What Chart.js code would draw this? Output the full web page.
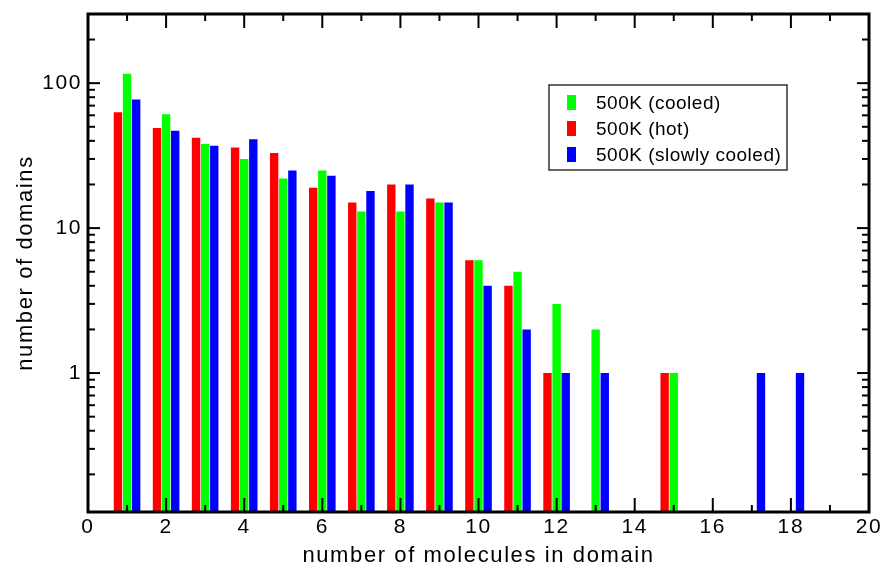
<!DOCTYPE html>
<html>
<head>
<meta charset="utf-8">
<script src="https://cdn.jsdelivr.net/npm/chart.js@4.4.1/dist/chart.umd.min.js"></script>
<style>
  html, body { margin: 0; padding: 0; background: #fff; }
  canvas { display: block; }
</style>
</head>
<body>
<canvas id="domainChart" width="889" height="569"></canvas>
<script>
// domain size histogram, 500K runs
const sizes  = [1, 2, 3, 4, 5, 6, 7, 8, 9, 10, 11, 12, 13, 14, 15, 16, 17, 18];
const hot    = [63, 49, 42, 36, 33, 19, 15, 20, 16, 6, 4, 1, null, null, 1, null, null, null];
const cooled = [116, 61, 38, 30, 22, 25, 13, 13, 15, 6, 5, 3, 2, null, 1, null, null, null];
const slowly = [77, 47, 37, 41, 25, 23, 18, 20, 15, 4, 2, 1, 1, null, null, null, 1, 1];

const seriesNames  = ['500K (hot)', '500K (cooled)', '500K (slowly cooled)'];
const seriesColors = ['#ff0000', '#00ff00', '#0000ff'];
const legendOrder  = [1, 0, 2];

const xTickValues = [0, 2, 4, 6, 8, 10, 12, 14, 16, 18, 20];
const yTickValues = [1, 10, 100];

const FONT = "'Liberation Sans', Arial, sans-serif";

function points(values) {
  return sizes.map((s, i) => ({ x: s, y: values[i] }));
}

// closed frame with inward ticks on all four sides
const frame = {
  id: 'frame',
  afterDatasetsDraw(chart) {
    const { ctx, chartArea: a, scales: { x, y } } = chart;
    const seg = (x1, y1, x2, y2) => {
      ctx.beginPath(); ctx.moveTo(x1, y1); ctx.lineTo(x2, y2); ctx.stroke();
    };
    ctx.save();
    ctx.strokeStyle = '#000';
    ctx.lineWidth = 2;
    for (let v = 1; v < 20; v++) {
      const px = x.getPixelForValue(v);
      const len = v % 2 ? 7 : 14;
      seg(px, a.bottom, px, a.bottom - len);
      seg(px, a.top, px, a.top + len);
    }
    for (let d = 0.1; d < 1000; d *= 10) {
      for (let k = 1; k < 10; k++) {
        const v = d * k;
        if (v <= y.min || v >= y.max) continue;
        const py = y.getPixelForValue(v);
        const len = k === 1 ? 12 : 7;
        seg(a.left, py, a.left + len, py);
        seg(a.right, py, a.right - len, py);
      }
    }
    ctx.lineWidth = 3;
    ctx.strokeRect(a.left, a.top, a.right - a.left, a.bottom - a.top);
    ctx.restore();
  }
};

// boxed legend inside the plot
const legendBox = {
  id: 'legendBox',
  afterDraw(chart) {
    const ctx = chart.ctx;
    const ds = chart.data.datasets;
    ctx.save();
    ctx.fillStyle = '#fff';
    ctx.fillRect(549, 85, 238, 85);
    ctx.strokeStyle = '#333';
    ctx.lineWidth = 1.5;
    ctx.strokeRect(549, 85, 238, 85);
    ctx.letterSpacing = '0.5px';
    ctx.font = '19px ' + FONT;
    ctx.textBaseline = 'alphabetic';
    legendOrder.forEach((idx, row) => {
      const base = 109 + row * 26;
      ctx.fillStyle = ds[idx].backgroundColor;
      ctx.fillRect(567, base - 14, 9, 15);
      ctx.fillStyle = '#000';
      ctx.fillText(ds[idx].label, 596, base);
    });
    ctx.restore();
  }
};

// wider axis lettering
const spacing = {
  id: 'spacing',
  beforeDraw(chart) {
    chart.ctx.letterSpacing = '1.6px';
  }
};

new Chart(document.getElementById('domainChart'), {
  type: 'bar',
  data: {
    datasets: [hot, cooled, slowly].map((vals, i) => ({
      label: seriesNames[i],
      data: points(vals),
      backgroundColor: seriesColors[i],
      borderWidth: 0,
      categoryPercentage: 0.7,
      barPercentage: 0.92
    }))
  },
  options: {
    responsive: false,
    animation: false,
    layout: { padding: { left: 0, right: 20, top: 14, bottom: 0 } },
    plugins: {
      legend: { display: false },
      tooltip: { enabled: false }
    },
    scales: {
      x: {
        type: 'linear',
        min: 0,
        max: 20,
        offset: false,
        grid: { display: false, drawTicks: false },
        border: { display: false },
        afterBuildTicks: s => { s.ticks = xTickValues.map(v => ({ value: v })); },
        afterFit: s => { s.height = 57; s.paddingLeft = 0; s.paddingRight = 0; },
        ticks: {
          autoSkip: false,
          maxRotation: 0,
          padding: 3,
          color: '#000',
          font: { family: FONT, size: 21 }
        },
        title: {
          display: true,
          text: 'number of molecules in domain',
          color: '#000',
          padding: { top: 0, bottom: 0 },
          font: { family: FONT, size: 22 }
        }
      },
      y: {
        type: 'logarithmic',
        min: 0.11,
        max: 300,
        grid: { display: false, drawTicks: false },
        border: { display: false },
        afterBuildTicks: s => { s.ticks = yTickValues.map(v => ({ value: v })); },
        afterFit: s => { s.width = 88; s.paddingTop = 0; s.paddingBottom = 0; },
        ticks: {
          padding: 6,
          color: '#000',
          font: { family: FONT, size: 21 },
          callback: v => String(v)
        },
        title: {
          display: true,
          text: 'number of domains',
          color: '#000',
          padding: { top: 13, bottom: 0 },
          font: { family: FONT, size: 22 }
        }
      }
    }
  },
  plugins: [spacing, frame, legendBox]
});
</script>
</body>
</html>
